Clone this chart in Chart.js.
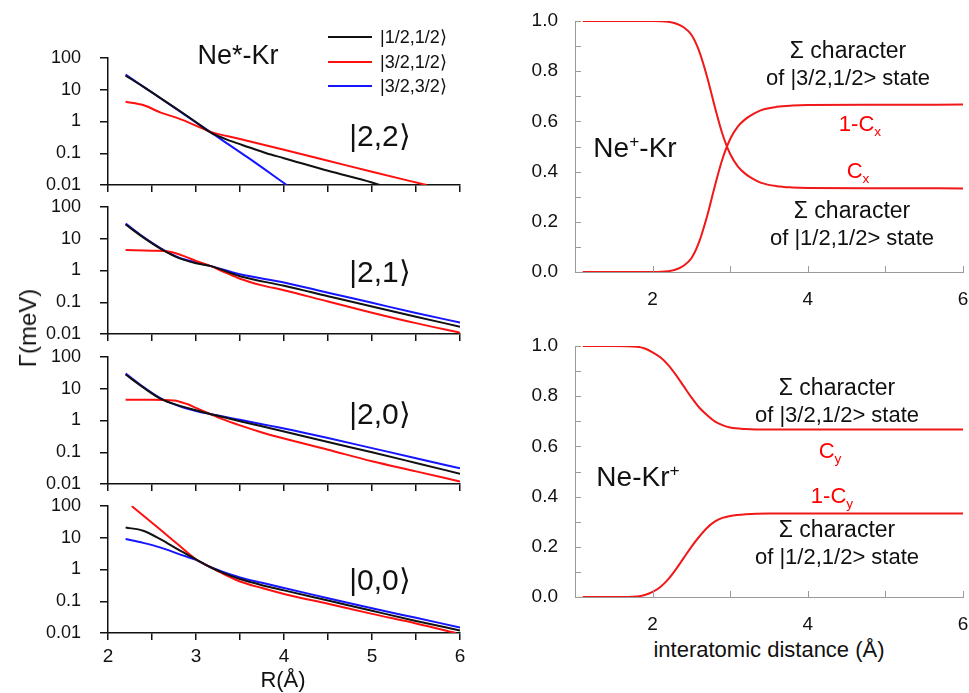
<!DOCTYPE html>
<html><head><meta charset="utf-8">
<script src="https://cdn.jsdelivr.net/npm/chart.js@4"></script>
<style>
body{margin:0;background:#fff;}
#wrap{position:relative;width:969px;height:693px;overflow:hidden;font-family:"Liberation Sans",Arial,sans-serif;color:#111;}
canvas{position:absolute;}
.t{position:absolute;white-space:nowrap;line-height:1;transform:translate(-50%,-50%);}
.red{color:#f00;}
sub,sup{font-size:62%;line-height:0;}
.leg{position:absolute;height:0;border-top:2px solid;}
</style></head><body><div id="wrap"></div>
<script>
// ---------- DATA ----------
// Left column: Gamma (meV) vs R (Å), log scale
const yDecades = [0.01, 0.1, 1, 10, 100];
const seriesNames = ['|1/2,1/2⟩', '|3/2,1/2⟩', '|3/2,3/2⟩'];
const panelLabels = ['|2,2⟩', '|2,1⟩', '|2,0⟩', '|0,0⟩'];

// |2,2>
const R22_k = [2.2, 2.4, 2.6, 2.8, 3.0, 3.16, 3.4, 3.6, 3.8, 4.0, 4.5, 5.0, 5.09];
const G22_k = [28, 12.5, 5.4, 2.3, 0.95, 0.46, 0.24, 0.155, 0.1, 0.07, 0.028, 0.012, 0.01];
const R22_r = [2.2, 2.4, 2.6, 2.8, 3.0, 3.16, 3.5, 4.0, 4.5, 5.0, 5.62];
const G22_r = [4.2, 3.3, 1.9, 1.25, 0.74, 0.48, 0.28, 0.128, 0.058, 0.026, 0.01];
const R22_b = [2.2, 2.6, 3.16, 3.6, 4.03];
const G22_b = [30, 5.3, 0.47, 0.07, 0.01];

// |2,1>
const R21_kb = [2.2, 2.4, 2.6, 2.8, 3.0, 3.16, 3.5, 4.0, 4.5, 5.0, 5.5, 6.0];
const G21_k = [28, 11, 4.8, 2.5, 1.7, 1.4, 0.66, 0.33, 0.155, 0.073, 0.035, 0.017];
const G21_b = [30, 11.5, 5, 2.6, 1.8, 1.4, 0.76, 0.42, 0.2, 0.096, 0.046, 0.023];
const R21_r = [2.2, 2.5, 2.7, 2.9, 3.0, 3.16, 3.3, 3.5, 3.75, 4.0, 4.5, 5.0, 5.5, 6.0];
const G21_r = [4.4, 4.2, 3.9, 2.6, 2.0, 1.4, 0.95, 0.55, 0.34, 0.24, 0.105, 0.047, 0.022, 0.011];

// |2,0>
const R20_kb = [2.2, 2.4, 2.6, 2.8, 3.0, 3.16, 3.5, 4.0, 4.5, 5.0, 5.5, 6.0];
const G20_k = [28, 11, 4.8, 3.0, 2.1, 1.6, 0.95, 0.45, 0.21, 0.1, 0.046, 0.021];
const G20_b = [30, 11.5, 5, 2.9, 2.0, 1.6, 1.05, 0.56, 0.28, 0.135, 0.065, 0.031];
const R20_r = [2.2, 2.5, 2.75, 2.9, 3.0, 3.16, 3.3, 3.5, 3.75, 4.0, 4.5, 5.0, 5.5, 6.0];
const G20_r = [4.5, 4.5, 4.3, 3.3, 2.5, 1.6, 1.1, 0.7, 0.42, 0.27, 0.12, 0.052, 0.025, 0.012];

// |0,0>
const R00 = [2.2, 2.4, 2.6, 2.8, 3.0, 3.16, 3.3, 3.5, 3.75, 4.0, 4.5, 5.0, 5.5, 6.0];
const G00_k = [21, 16.7, 8.9, 4.2, 2.1, 1.2, 0.8, 0.5, 0.32, 0.22, 0.105, 0.05, 0.024, 0.012];
const G00_b = [9.1, 6.9, 4.9, 3.1, 2.0, 1.2, 0.85, 0.56, 0.38, 0.26, 0.125, 0.06, 0.03, 0.015];
const R00_r = [2.27, 2.4, 2.6, 2.8, 3.0, 3.16, 3.3, 3.5, 3.75, 4.0, 4.5, 5.0, 5.5, 5.95];
const G00_r = [100, 50, 17.5, 6, 2.1, 1.2, 0.75, 0.42, 0.26, 0.17, 0.083, 0.04, 0.02, 0.01];

// Right column: Sigma character vs interatomic distance
const Rx = [1.1, 1.5, 2.0, 2.2, 2.3, 2.4, 2.5, 2.6, 2.7, 2.8, 2.9, 3.0, 3.1, 3.2, 3.3, 3.4, 3.6, 3.8, 4.0, 5.0, 6.0];
const Cx = [1, 1, 1, 0.997, 0.99, 0.975, 0.945, 0.88, 0.78, 0.66, 0.55, 0.47, 0.42, 0.39, 0.37, 0.355, 0.342, 0.337, 0.335, 0.334, 0.333];
const oneMinusCx = [0, 0, 0, 0.003, 0.01, 0.025, 0.055, 0.12, 0.22, 0.34, 0.45, 0.53, 0.58, 0.61, 0.63, 0.645, 0.658, 0.663, 0.665, 0.666, 0.667];
const Ry = [1.1, 1.5, 1.8, 1.9, 2.0, 2.1, 2.2, 2.3, 2.4, 2.5, 2.6, 2.7, 2.8, 2.9, 3.0, 3.2, 3.5, 4.0, 5.0, 6.0];
const Cy = [1, 1, 0.997, 0.99, 0.975, 0.955, 0.925, 0.885, 0.84, 0.795, 0.755, 0.725, 0.7, 0.685, 0.675, 0.669, 0.667, 0.667, 0.667, 0.667];
const oneMinusCy = [0, 0, 0.002, 0.008, 0.02, 0.04, 0.07, 0.11, 0.155, 0.2, 0.24, 0.275, 0.3, 0.315, 0.323, 0.33, 0.333, 0.333, 0.333, 0.333];

// ---------- STYLE ----------
const BLACK = '#111', RED = '#ff1010', BLUE = '#1515ff', GRAY = '#9a9a9a', CRED = '#f01818';
Chart.defaults.font.family = '"Liberation Sans", Arial, sans-serif';
Chart.defaults.color = '#111';

const wrap = document.getElementById('wrap');
function mkCanvas(l, t, w, h) {
  const c = document.createElement('canvas');
  c.width = w; c.height = h;
  c.style.left = l + 'px'; c.style.top = t + 'px';
  c.style.width = w + 'px'; c.style.height = h + 'px';
  wrap.appendChild(c);
  return c;
}
function ds(xs, ys, color) {
  return { data: xs.map((x, i) => ({ x, y: ys[i] })), borderColor: color, borderWidth: 2,
    pointRadius: 0, cubicInterpolationMode: 'monotone', fill: false };
}
function fixX(h) { return s => { s.height = h; s.paddingLeft = 0; s.paddingRight = 0; }; }
function fixY(w) { return s => { s.width = w; s.paddingTop = 0; s.paddingBottom = 0; }; }

function leftPanel(cTop, cBot, aTop, aBot, datasets, showX) {
  const W = 470, L = 108, R = 460;
  const cv = mkCanvas(0, cTop, W, cBot - cTop);
  new Chart(cv, {
    type: 'line',
    data: { datasets },
    options: {
      responsive: false, animation: false, events: [],
      plugins: { legend: { display: false }, tooltip: { enabled: false } },
      layout: { padding: { top: aTop - cTop, right: W - R, left: 0, bottom: 0 } },
      scales: {
        x: { type: 'linear', min: 2, max: 6,
          afterFit: fixX(cBot - aBot),
          ticks: { stepSize: 0.5, autoSkip: false, maxRotation: 0, padding: 5, font: { size: 19 }, color: BLACK,
            callback: v => (showX && Number.isInteger(v)) ? String(v) : '' },
          grid: { drawOnChartArea: false, drawTicks: true, tickLength: 7, color: BLACK, lineWidth: 1.5 },
          border: { color: BLACK, width: 1.5 } },
        y: { type: 'logarithmic', min: 0.01, max: 100,
          afterFit: fixY(L),
          afterBuildTicks: s => { s.ticks = yDecades.map(v => ({ value: v })); },
          ticks: { padding: 19, font: { size: 18 }, color: BLACK, callback: v => String(v) },
          grid: { drawOnChartArea: false, drawTicks: true, tickLength: 8, color: BLACK, lineWidth: 1.5 },
          border: { color: BLACK, width: 1.5 } }
      }
    }
  });
}

leftPanel(40, 195, 58, 185, [ds(R22_k, G22_k, BLACK), ds(R22_r, G22_r, RED), ds(R22_b, G22_b, BLUE)], false);
leftPanel(192, 344, 207, 334, [ds(R21_kb, G21_k, BLACK), ds(R21_r, G21_r, RED), ds(R21_kb, G21_b, BLUE)], false);
leftPanel(346, 494, 357, 484, [ds(R20_kb, G20_k, BLACK), ds(R20_r, G20_r, RED), ds(R20_kb, G20_b, BLUE)], false);
leftPanel(496, 668, 506, 633, [ds(R00, G00_k, BLACK), ds(R00_r, G00_r, RED), ds(R00, G00_b, BLUE)], true);

const innerTicks = {
  id: 'innerTicks',
  afterDraw(chart) {
    const { ctx, chartArea: a, scales: { x, y } } = chart;
    ctx.save(); ctx.strokeStyle = GRAY; ctx.lineWidth = 1; ctx.beginPath();
    y.ticks.forEach(t => { const p = Math.round(y.getPixelForValue(t.value)) + 0.5; ctx.moveTo(a.left, p); ctx.lineTo(a.left + 6, p); });
    x.ticks.forEach(t => { const p = Math.round(x.getPixelForValue(t.value)) + 0.5; ctx.moveTo(p, a.bottom); ctx.lineTo(p, a.bottom - 6); });
    ctx.stroke(); ctx.restore();
  }
};

function rightPanel(cTop, cBot, aTop, aBot, datasets) {
  const CL = 520, W = 449, L = 575, R = 963;
  const cv = mkCanvas(CL, cTop, W, cBot - cTop);
  new Chart(cv, {
    type: 'line',
    data: { datasets },
    plugins: [innerTicks],
    options: {
      responsive: false, animation: false, events: [],
      plugins: { legend: { display: false }, tooltip: { enabled: false } },
      layout: { padding: { top: aTop - cTop, right: CL + W - R, left: 0, bottom: 0 } },
      scales: {
        x: { type: 'linear', min: 1, max: 6,
          afterFit: fixX(cBot - aBot),
          ticks: { stepSize: 1, autoSkip: false, maxRotation: 0, padding: 8, font: { size: 19 }, color: BLACK,
            callback: v => (v % 2 === 0) ? String(v) : '' },
          grid: { display: false },
          border: { color: GRAY, width: 1 } },
        y: { type: 'linear', min: 0, max: 1,
          afterFit: fixY(L - CL),
          ticks: { stepSize: 0.1, autoSkip: false, padding: 9, font: { size: 19 }, color: BLACK,
            callback: v => (Math.round(v * 10) % 2 === 0) ? v.toFixed(1) : '' },
          grid: { display: false },
          border: { color: GRAY, width: 1 } }
      }
    }
  });
}
rightPanel(5, 305, 21, 272, [ds(Rx, Cx, CRED), ds(Rx, oneMinusCx, CRED)]);
rightPanel(330, 630, 346, 597, [ds(Ry, Cy, CRED), ds(Ry, oneMinusCy, CRED)]);

// ---------- TEXT ----------
function txt(html, x, y, size, cls, extra) {
  const d = document.createElement('div');
  d.className = 't' + (cls ? ' ' + cls : '');
  d.innerHTML = html;
  d.style.left = x + 'px'; d.style.top = y + 'px'; d.style.fontSize = size + 'px';
  if (extra) d.style.cssText += extra;
  wrap.appendChild(d);
  return d;
}
txt('Ne*-Kr', 238, 55, 27);
const legColors = [BLACK, RED, BLUE];
const legY = [37, 62, 86];
seriesNames.forEach((n, i) => {
  const l = document.createElement('div');
  l.className = 'leg'; l.style.left = '328px'; l.style.width = '44px';
  l.style.top = (legY[i] - 1) + 'px'; l.style.borderColor = legColors[i];
  wrap.appendChild(l);
  txt(n, 380, legY[i], 18, '', 'transform:translate(0,-50%);');
});
const labY = [136, 272, 414, 580];
panelLabels.forEach((s, i) => txt(s, 380, labY[i], 30));
txt('Γ(meV)', 28, 328, 24, '', 'transform:translate(-50%,-50%) rotate(-90deg);');
txt('R(Å)', 283, 680, 22);

txt('Ne<sup>+</sup>-Kr', 635, 148, 28);
txt('Σ character', 848, 50, 23);
txt('of |3/2,1/2&gt; state', 848, 78, 22);
txt('1-C<sub>x</sub>', 860, 124, 22, 'red');
txt('C<sub>x</sub>', 858, 171, 22, 'red');
txt('Σ character', 852, 210, 23);
txt('of |1/2,1/2&gt; state', 852, 238, 22);

txt('Σ character', 837, 387, 23);
txt('of |3/2,1/2&gt; state', 837, 415, 22);
txt('C<sub>y</sub>', 830, 451, 22, 'red');
txt('Ne-Kr<sup>+</sup>', 638, 477, 28);
txt('1-C<sub>y</sub>', 832, 496, 22, 'red');
txt('Σ character', 837, 529, 23);
txt('of |1/2,1/2&gt; state', 837, 557, 22);
txt('interatomic distance (Å)', 769, 650, 22);
</script>
</body></html>
